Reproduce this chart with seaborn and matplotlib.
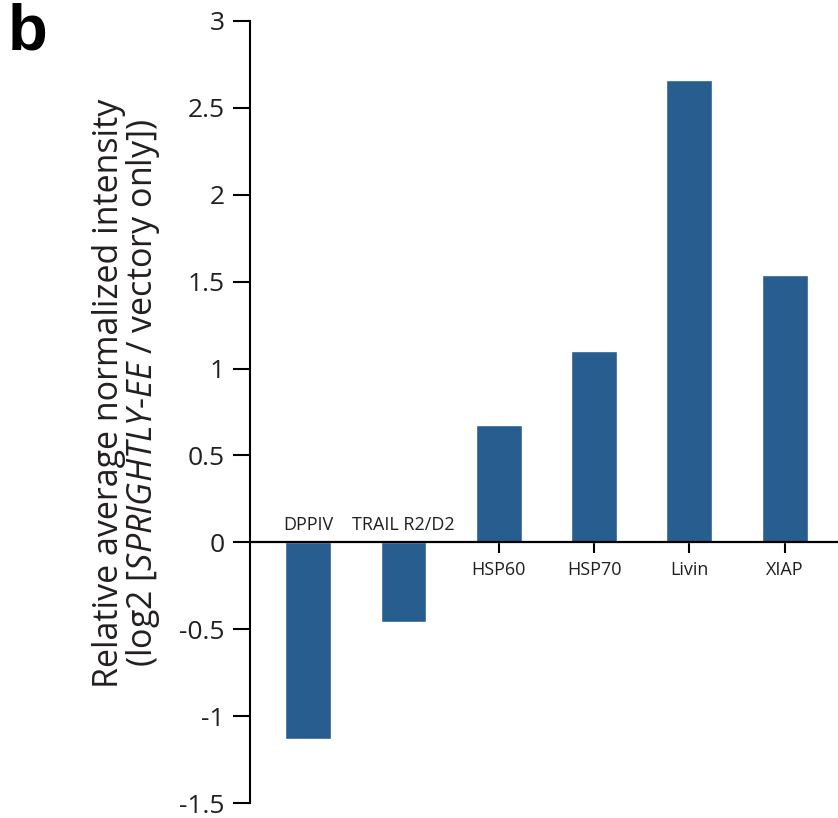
import matplotlib
matplotlib.use("Agg")
import matplotlib.pyplot as plt
import seaborn as sns
import pandas as pd

categories = ["DPPIV", "TRAIL R2/D2", "HSP60", "HSP70", "Livin", "XIAP"]
values = [-1.13, -0.46, 0.675, 1.10, 2.66, 1.535]
yticks = [-1.5, -1, -0.5, 0, 0.5, 1, 1.5, 2, 2.5, 3]
ytick_labels = ["-1.5", "-1", "-0.5", "0", "0.5", "1", "1.5", "2", "2.5", "3"]

sns.set_style("white")
plt.rcParams["font.family"] = ["Open Sans", "DejaVu Sans"]
plt.rcParams["mathtext.fontset"] = "custom"
plt.rcParams["mathtext.rm"] = "Open Sans"
plt.rcParams["mathtext.it"] = "Open Sans:italic"

txt = "#231f20"
bar_color = "#285d8f"

df = pd.DataFrame({"protein": categories, "value": values})

fig = plt.figure(figsize=(8.38, 8.18), dpi=100)
ax = fig.add_axes([250 / 838, 1 - 803.3 / 818, 1 - 250 / 838, (803.3 - 20.7) / 818])

sns.barplot(data=df, x="protein", y="value", color=bar_color, saturation=1,
            width=0.48, ax=ax, zorder=1)

ax.set_ylim(-1.5, 3)
ax.set_xlim(-0.61, 5.56)
ax.set_yticks(yticks)
ax.set_yticklabels(ytick_labels)
ax.set_xlabel("")
ax.set_ylabel("")

for s in ["top", "right"]:
    ax.spines[s].set_visible(False)
ax.spines["left"].set_linewidth(1.5)
ax.spines["left"].set_color("black")
ax.spines["bottom"].set_position(("data", 0))
ax.spines["bottom"].set_linewidth(1.6)
ax.spines["bottom"].set_color("black")
ax.spines["bottom"].set_zorder(2)

ax.tick_params(axis="y", direction="out", length=12, width=1.5, color="black",
               labelsize=19, labelcolor=txt, pad=6, left=True)
ax.tick_params(axis="x", direction="out", length=8, width=1.5, color="black",
               labelbottom=False, bottom=True)

for i, (cat, v) in enumerate(zip(categories, values)):
    if v < 0:
        ax.text(i, 0.07, cat, ha="center", va="baseline", fontsize=13, color=txt)
    else:
        ax.text(i, -0.185, cat, ha="center", va="baseline", fontsize=13, color=txt)

fig.text(127 / 838, 1 - 393 / 818,
         "Relative average normalized intensity\n"
         r"(log2 [$\mathit{SPRIGHTLY}$-$\mathit{EE}$ / vectory only])",
         rotation=90, ha="center", va="center", multialignment="center",
         fontsize=24.5, color=txt, linespacing=0.92)

fig.text(8 / 838, 1 - 3 / 818, "b", fontsize=47, fontweight="bold",
         family=["Liberation Sans", "DejaVu Sans"], ha="left", va="top", color="black")

fig.savefig("out.png", dpi=100)
